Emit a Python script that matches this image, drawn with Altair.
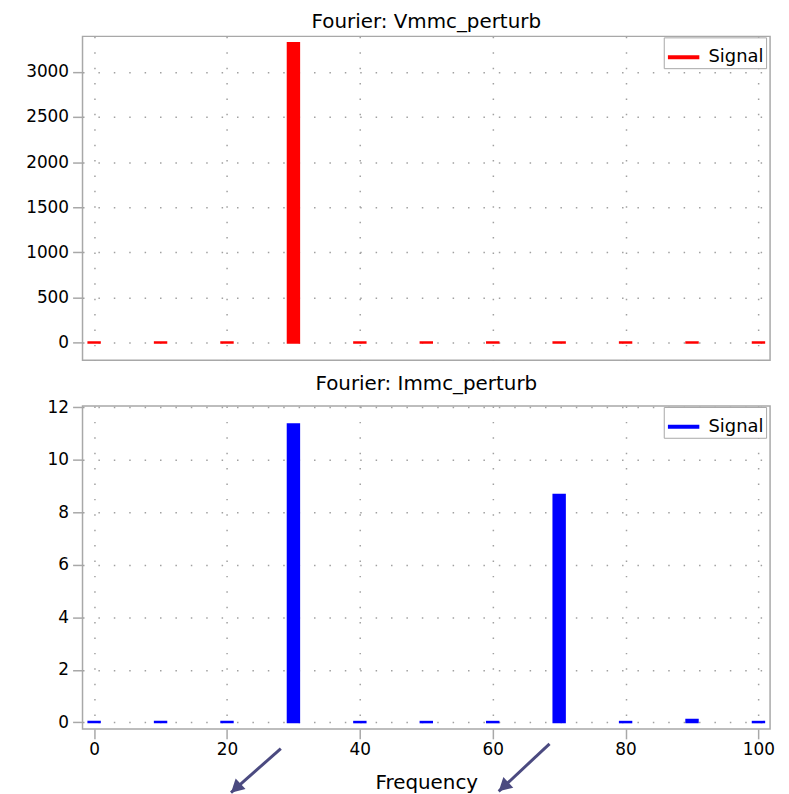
import altair as alt
import pandas as pd

# ---- data ----
freq = [0, 10, 20, 30, 40, 50, 60, 70, 80, 90, 100]
v_mag = [5, 5, 5, 3320, 5, 5, 5, 5, 5, 5, 5]
i_mag = [0.02, 0.02, 0.02, 11.35, 0.02, 0.02, 0.02, 8.67, 0.02, 0.1, 0.02]
series_name = "Signal"
x_ticks = [0, 20, 40, 60, 80, 100]
v_ticks = [0, 500, 1000, 1500, 2000, 2500, 3000]
i_ticks = [0, 2, 4, 6, 8, 10, 12]
v_title = "Fourier: Vmmc_perturb"
i_title = "Fourier: Immc_perturb"
x_title = "Frequency"

# annotation arrows (in bottom-panel data units)
arrow_x_start = [28.1, 68.55]
arrow_x_end = [20.6, 60.9]
arrow_y_start = [-1.0, -0.82]
arrow_y_end = [-2.68, -2.63]

FONT = "DejaVu Sans"
GRID = "#a0a0a0"
FRAME = "#a8a8a8"
ARROW = "#4b4a80"

v_df = pd.DataFrame({"freq": freq, "mag": v_mag, "series": series_name})
i_df = pd.DataFrame({"freq": freq, "mag": i_mag, "series": series_name})
arrow_df = pd.DataFrame({"xs": arrow_x_start, "xe": arrow_x_end,
                         "ys": arrow_y_start, "ye": arrow_y_end})

x_scale = alt.Scale(domain=[-1, 101], nice=False, zero=False)


def legend_for(color):
    return alt.Legend(title=None, orient="none", legendX=585, legendY=1,
                      symbolType="stroke", symbolStrokeWidth=4, symbolSize=1000,
                      labelFontSize=18, labelFont=FONT, labelColor="black",
                      strokeColor=FRAME, fillColor="white", padding=2,
                      labelOffset=7, cornerRadius=0)


def y_axis(vals):
    return alt.Axis(values=vals, title=None, grid=True, domain=False, format="d",
                    tickSize=10, tickColor=FRAME, tickWidth=1.5,
                    labelFontSize=17, labelFont=FONT, labelColor="black",
                    labelPadding=4, minExtent=62, maxExtent=62)


def bars(df, color, ydomain, yticks, show_x_labels):
    cscale = alt.Scale(domain=[series_name], range=[color])
    if show_x_labels:
        xaxis = alt.Axis(values=x_ticks, title=x_title, grid=True, domain=False,
                         tickSize=10, tickColor=FRAME, tickWidth=1.5,
                         labelFontSize=17, labelFont=FONT, labelColor="black",
                         labelPadding=3, titleFontSize=20, titleFont=FONT,
                         titleFontWeight="normal", titleColor="black",
                         titlePadding=15)
    else:
        xaxis = alt.Axis(values=x_ticks, title=None, grid=True, domain=False,
                         ticks=False, labels=False, minExtent=0, maxExtent=0)
    return alt.Chart(df).mark_bar(size=11.5, strokeWidth=2, clip=True).encode(
        x=alt.X("freq:Q", scale=x_scale, axis=xaxis),
        y=alt.Y("mag:Q", scale=alt.Scale(domain=ydomain, nice=False, zero=False),
                axis=y_axis(yticks)),
        color=alt.Color("series:N", scale=cscale, legend=legend_for(color)),
        stroke=alt.Stroke("series:N", scale=cscale, legend=legend_for(color)),
    )


def title(text):
    return alt.TitleParams(text, fontSize=20, font=FONT, fontWeight="normal",
                           color="black", anchor="middle", offset=4)


top = bars(v_df, "#ff0000", [-195, 3393], v_ticks, False).properties(
    width=692, height=326, title=title(v_title))

bottom_bars = bars(i_df, "#0000ff", [-0.25, 12.05], i_ticks, True)

arrow_lines = alt.Chart(arrow_df).mark_rule(color=ARROW, strokeWidth=3, clip=False).encode(
    x=alt.X("xs:Q", scale=x_scale), x2="xe:Q",
    y=alt.Y("ys:Q"), y2="ye:Q")
arrow_heads = alt.Chart(arrow_df).mark_point(
    shape="M0,0 L-0.55,1 L0.55,1 Z", filled=True, size=700, angle=227,
    color=ARROW, opacity=1, clip=False).encode(
    x=alt.X("xe:Q", scale=x_scale), y=alt.Y("ye:Q"))

bottom = alt.layer(bottom_bars, arrow_lines, arrow_heads).properties(
    width=692, height=325, title=title(i_title))

chart = alt.vconcat(top, bottom, spacing=12).resolve_scale(
    color="independent", stroke="independent", y="independent", x="independent"
).properties(
    padding={"left": 12, "top": 1, "right": 5, "bottom": 0}
).configure_view(
    stroke=FRAME, strokeWidth=1.5
).configure_axis(
    gridColor=GRID, gridDash=[1.5, 14], gridWidth=1.5, gridOpacity=1
)

chart.save("out.html", embed_options={"renderer": "svg", "actions": False})
